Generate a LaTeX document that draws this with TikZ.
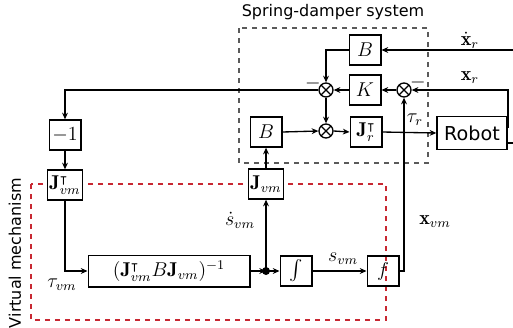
\documentclass[tikz,border=0pt]{standalone}
\usepackage{amsmath,amssymb}
\usepackage{fontspec}
\newfontfamily\labelfont{DejaVu Sans}
\usetikzlibrary{arrows.meta}

\definecolor{springgray}{RGB}{90,90,90}
\definecolor{vmred}{RGB}{200,40,50}

\tikzset{
  blockbox/.style={draw, thick, fill=white, minimum width=19pt, minimum height=18pt, inner sep=1pt},
  sumnode/.style={draw, thick, circle, minimum size=8.4pt, inner sep=0pt,
    path picture={\draw[thick] (path picture bounding box.north west) -- (path picture bounding box.south east)
      (path picture bounding box.north east) -- (path picture bounding box.south west);}},
  sig/.style={thick, -{Stealth[length=4pt,width=3.5pt]}},
  wire/.style={thick},
  titletext/.style={font=\labelfont\fontsize{9.6}{11}\selectfont}
}

\begin{document}
\begin{tikzpicture}[x=0.6pt,y=-0.6pt, every node/.style={font=\large}]
\useasboundingbox (0,0) rectangle (513,327);

% Spring-damper frame
\draw[springgray, dashed, thick] (239,28) rectangle (428,163);
\node[titletext] (sdtitle) at (333,12) {Spring-damper system};

% Virtual mechanism frame
\draw[vmred, dashed, thick] (31,184) rectangle (386,320);
\node[titletext, rotate=90] (vmtitle) at (15,253) {Virtual mechanism};

% Spring-damper blocks
\node[blockbox] (Btop) at (365,50) {$B$};
\node[blockbox] (K) at (365,90) {$K$};
\node[sumnode] (sumL) at (326,90) {};
\node[sumnode] (sumR) at (404,90) {};
\node[sumnode] (sumB) at (326,131) {};
\node[blockbox] (Bbot) at (266,132) {$B$};
\node[blockbox] (Jr) at (366,132) {$\mathbf{J}_r^{\intercal}$};
\node[blockbox, minimum width=42pt, minimum height=20pt, font=\labelfont\fontsize{11.5}{13}\selectfont] (robot) at (472,133) {Robot};

% Virtual mechanism blocks
\node[blockbox] (neg) at (65,135) {$-1$};
\node[blockbox] (Jvmt) at (65,185) {$\mathbf{J}_{vm}^{\intercal}$};
\node[blockbox, minimum width=97pt, minimum height=19pt] (inv) at (169,271) {$(\mathbf{J}_{vm}^{\intercal}B\mathbf{J}_{vm})^{-1}$};
\fill (266,271) circle (2.4pt);
\coordinate (dot) at (266,271);
\node[blockbox] (integ) at (296,271) {$\int$};
\node[blockbox, fill=none] (f) at (383,271) {$f$};
\node[blockbox] (Jvm) at (266,184) {$\mathbf{J}_{vm}$};

% Inputs from the right
\coordinate (xdin) at (513,50);
\coordinate (xrout) at (508,127);
\coordinate (xrcorner) at (508,90);
\coordinate (robout) at (513,143);
\coordinate (leftcorner) at (65,90);
\coordinate (fcorner) at (404,271);

\draw[sig] (xdin) -- (Btop.east);
\node (xdlabel) at (470,40) {$\dot{\mathbf{x}}_r$};
\draw[sig] (Btop.west) -| (sumL.north);
\draw[sig] (K.west) -- (sumL.east);
\draw[sig] (sumR.west) -- (K.east);
\draw[sig] (robot.east |- xrout) -- (xrout) -- (xrcorner) -- (sumR.east);
\node (xrlabel) at (470,78) {$\mathbf{x}_r$};
\draw[wire] (robot.east |- robout) -- (robout);
\node (minusL) at (313,83) {$-$};
\node (minusR) at (418,82) {$-$};

\draw[sig] (sumL.west) -- (leftcorner) -- (neg.north);
\draw[sig] (sumL.south) -- (sumB.north);
\draw[sig] (Bbot.east) -- (sumB.west);
\draw[sig] (sumB.east) -- (Jr.west);
\draw[sig] (Jr.east) -- (robot.west);
\node (taur) at (415,120) {$\tau_r$};

% Virtual mechanism signals
\draw[sig] (neg.south) -- (Jvmt.north);
\draw[sig] (Jvmt.south) |- (inv.west);
\node (tauvm) at (62,285) {$\tau_{vm}$};
\draw[sig] (inv.east) -- (dot);
\draw[sig] (dot) -- (integ.west);
\draw[sig] (integ.east) -- (f.west);
\node (svm) at (343,259) {$s_{vm}$};
\draw[sig] (dot) -- (Jvm.south);
\node[inner sep=1pt] (sdvm) at (240,220) {$\dot{s}_{vm}$};
\draw[sig] (Jvm.north) -- (Bbot.south);
\draw[sig] (f.east) -- (fcorner) -- (sumR.south);
\node (xvm) at (435,222) {$\mathbf{x}_{vm}$};

\end{tikzpicture}
\end{document}
